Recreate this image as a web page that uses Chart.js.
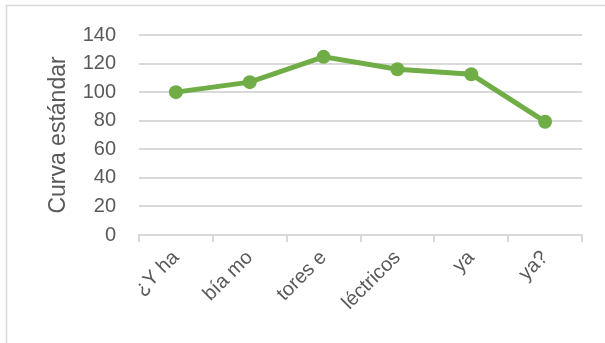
<!DOCTYPE html>
<html>
<head>
<meta charset="utf-8">
<script src="https://cdn.jsdelivr.net/npm/chart.js@4/dist/chart.umd.min.js"></script>
<style>
  html, body { margin: 0; padding: 0; background: #fff; }
  canvas { display: block; }
</style>
</head>
<body>
<canvas id="chart-line" width="605" height="343"></canvas>
<script>
// data
const categories = ['¿Y ha', 'bía mo', 'tores e', 'léctricos', 'ya', 'ya?'];
const curvaValues = [100, 107, 124.7, 116, 112.5, 79.3];
const yTicks = [0, 20, 40, 60, 80, 100, 120, 140];

const gray = '#595959';
const gridGray = '#d9d9d9';
const green = '#70ad47';
const fontFamily = "'Liberation Sans', 'Open Sans', sans-serif";

// frame of the chart area: only top and left edges show in the crop
const framePlugin = {
  id: 'frame',
  beforeDraw: (chart) => {
    const { ctx } = chart;
    ctx.save();
    ctx.strokeStyle = gridGray;
    ctx.lineWidth = 1.5;
    ctx.beginPath();
    ctx.moveTo(6.5, 343);
    ctx.lineTo(6.5, 5.5);
    ctx.lineTo(605, 5.5);
    ctx.stroke();
    ctx.restore();
  }
};

new Chart(document.getElementById('chart-line').getContext('2d'), {
  type: 'line',
  data: {
    labels: categories,
    datasets: [{
      label: 'Curva estándar',
      data: curvaValues,
      borderColor: green,
      backgroundColor: green,
      borderWidth: 5,
      pointRadius: 7,
      pointHoverRadius: 7,
      pointBorderWidth: 0,
      tension: 0
    }]
  },
  options: {
    responsive: false,
    animation: false,
    layout: { padding: { left: 0, top: 34, right: 23, bottom: 0 } },
    plugins: {
      legend: { display: false },
      tooltip: { enabled: false }
    },
    scales: {
      x: {
        offset: true,
        afterFit: (axis) => { axis.height = 108; },
        grid: {
          offset: true,
          drawOnChartArea: false,
          drawTicks: true,
          tickLength: 7,
          color: gridGray,
          lineWidth: 2
        },
        border: { color: gridGray, width: 2 },
        ticks: {
          color: gray,
          font: { family: fontFamily, size: 20 },
          maxRotation: 45,
          minRotation: 45,
          padding: 4,
          autoSkip: false
        }
      },
      y: {
        min: 0,
        max: 140,
        afterFit: (axis) => { axis.width = 139; },
        afterBuildTicks: (axis) => {
          axis.ticks = yTicks.map(v => ({ value: v }));
        },
        grid: {
          color: gridGray,
          lineWidth: 2,
          drawTicks: false
        },
        border: { display: false },
        ticks: {
          color: gray,
          font: { family: fontFamily, size: 20 },
          padding: 23
        },
        title: {
          display: true,
          text: 'Curva estándar',
          color: gray,
          font: { family: fontFamily, size: 23 },
          padding: { top: 45, bottom: 0 }
        }
      }
    }
  },
  plugins: [framePlugin]
});
</script>
</body>
</html>
